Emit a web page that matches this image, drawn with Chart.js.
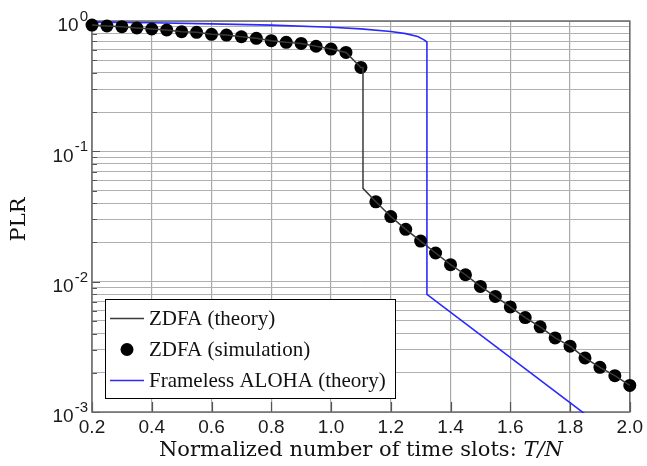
<!DOCTYPE html>
<html><head><meta charset="utf-8">
<script src="https://cdn.jsdelivr.net/npm/chart.js@4/dist/chart.umd.min.js"></script>
<style>html,body{margin:0;padding:0;background:#fff;overflow:hidden}#wrap{width:647px;height:466px;position:relative}</style>
</head><body><div id="wrap"><canvas id="c"></canvas></div>
<script>
// ---- data ----
const simX = [0.2,0.25,0.3,0.35,0.4,0.45,0.5,0.55,0.6,0.65,0.7,0.75,0.8,0.85,0.9,0.95,1.0,1.05,1.1,
              1.15,1.2,1.25,1.3,1.35,1.4,1.45,1.5,1.55,1.6,1.65,1.7,1.75,1.8,1.85,1.9,1.95,2.0];
const simY = [0.93,0.915,0.904,0.884,0.868,0.853,0.828,0.818,0.79,0.78,0.757,0.736,0.706,0.686,0.673,0.64,0.609,0.574,0.44,
              0.041,0.0316,0.0252,0.0205,0.0166,0.0135,0.0113,0.0092,0.0077,0.0064,0.0053,0.0045,0.0037,0.0032,0.0026,0.0022,0.0019,0.0016];
const theoryX = [0.2,0.25,0.3,0.35,0.4,0.45,0.5,0.55,0.6,0.65,0.7,0.75,0.8,0.85,0.9,0.95,1.0,1.05,1.1,1.107,1.107,
                 1.15,1.2,1.25,1.3,1.35,1.4,1.45,1.5,1.55,1.6,1.65,1.7,1.75,1.8,1.85,1.9,1.95,2.0];
const theoryY = [0.93,0.915,0.904,0.884,0.868,0.853,0.828,0.818,0.79,0.78,0.757,0.736,0.706,0.686,0.673,0.64,0.609,0.574,0.44,0.44,0.052,
                 0.041,0.0316,0.0252,0.0205,0.0166,0.0135,0.0113,0.0092,0.0077,0.0064,0.0053,0.0045,0.0037,0.0032,0.0026,0.0022,0.0019,0.0016];
const alohaX = [0.2,0.4,0.6,0.8,1.0,1.1,1.2,1.25,1.29,1.31,1.321,1.321,2.0];
const alohaY = [0.98,0.97,0.95,0.93,0.895,0.87,0.83,0.80,0.76,0.72,0.69,0.008,0.00053];
const seriesLabels = ['ZDFA (theory)','ZDFA (simulation)','Frameless ALOHA (theory)'];
const xTickValues = [0.2,0.4,0.6,0.8,1.0,1.2,1.4,1.6,1.8,2.0];
const yDecades = [1,0.1,0.01,0.001];
const yDecadeExps = ['0','-1','-2','-3'];
const yMinorMultipliers = [2,3,4,5,6,7,8,9];
const xTitle = 'Normalized number of time slots: ';
const xTitleMath = 'T/N';
const yTitle = 'PLR';

const toPts = (xs, ys) => xs.map((x, i) => ({x, y: ys[i]}));
const yGridValues = [];
yDecades.forEach(d => { yGridValues.push(d); if (d < 1) yMinorMultipliers.forEach(m => yGridValues.push(d * m)); });

const SANS = '"Liberation Sans", Arial, sans-serif';
const SERIF = '"DejaVu Serif", serif';
const LEGSERIF = '"Liberation Serif", "Times New Roman", serif';

const decor = {
  id: 'decor',
  beforeDatasetsDraw(chart) {
    const {ctx, chartArea: a} = chart;
    const xs = chart.scales.x, ys = chart.scales.y;
    ctx.save();
    ctx.strokeStyle = '#555';
    ctx.lineWidth = 1.2;
    ctx.beginPath();
    xTickValues.forEach(v => { const px = Math.round(xs.getPixelForValue(v)) + 0.5; ctx.moveTo(px, a.bottom); ctx.lineTo(px, a.bottom - 10); });
    yGridValues.forEach(v => { const py = Math.round(ys.getPixelForValue(v)) + 0.5; const len = yDecades.includes(v) ? 8 : 5; ctx.moveTo(a.left, py); ctx.lineTo(a.left + len, py); });
    ctx.stroke();
    ctx.strokeStyle = '#6a6a6a';
    ctx.lineWidth = 1.5;
    ctx.strokeRect(a.left, a.top, a.right - a.left, a.bottom - a.top);
    ctx.restore();
  },
  afterDraw(chart) {
    const {ctx, chartArea: a} = chart;
    const ys = chart.scales.y;
    ctx.save();
    ctx.fillStyle = '#1a1a1a';
    // y tick labels with superscript exponents
    yDecades.forEach((v, i) => {
      const py = ys.getPixelForValue(v);
      ctx.font = '15px ' + SANS;
      ctx.textAlign = 'right'; ctx.textBaseline = 'middle';
      const ew = ctx.measureText(yDecadeExps[i]).width;
      ctx.fillText(yDecadeExps[i], a.left - 4, py - 4);
      ctx.font = '19px ' + SANS;
      ctx.fillText('10', a.left - 5 - ew, py + 5);
    });
    // x title
    ctx.fillStyle = '#111';
    ctx.textBaseline = 'middle';
    ctx.font = '21px ' + SERIF;
    const w1 = ctx.measureText(xTitle).width;
    ctx.font = 'italic 21px ' + SERIF;
    const w2 = ctx.measureText(xTitleMath).width;
    const cx = (a.left + a.right) / 2;
    let sx = cx - (w1 + w2) / 2;
    ctx.textAlign = 'left';
    ctx.font = '21px ' + SERIF;
    ctx.fillText(xTitle, sx, 451);
    ctx.font = 'italic 21px ' + SERIF;
    ctx.fillText(xTitleMath, sx + w1, 451);
    // y title
    ctx.save();
    ctx.translate(20, (a.top + a.bottom) / 2 + 3);
    ctx.rotate(-Math.PI / 2);
    ctx.textAlign = 'center';
    ctx.font = '21px ' + SERIF;
    ctx.fillText(yTitle, 0, 0);
    ctx.restore();
    // legend
    const lx = 105.5, ly = 299.5, lw = 290, lh = 99;
    ctx.fillStyle = '#fff';
    ctx.fillRect(lx, ly, lw, lh);
    ctx.strokeStyle = '#000'; ctx.lineWidth = 1;
    ctx.strokeRect(lx, ly, lw, lh);
    const rows = [318.5, 349.5, 380.5];
    chart.data.datasets.forEach((ds, i) => {
      const ry = rows[i];
      if (ds.showLine) {
        ctx.strokeStyle = ds.borderColor; ctx.lineWidth = ds.borderWidth;
        ctx.beginPath(); ctx.moveTo(110, ry); ctx.lineTo(144, ry); ctx.stroke();
      } else {
        ctx.fillStyle = ds.pointBackgroundColor;
        ctx.beginPath(); ctx.arc(127, ry, ds.pointRadius, 0, Math.PI * 2); ctx.fill();
      }
      ctx.fillStyle = '#111';
      ctx.font = '21px ' + LEGSERIF;
      ctx.textAlign = 'left'; ctx.textBaseline = 'middle';
      ctx.fillText(ds.label, 149, ry + 1);
    });
    ctx.restore();
  }
};

new Chart(document.getElementById('c'), {
  type: 'scatter',
  data: {
    datasets: [
      { label: seriesLabels[0], data: toPts(theoryX, theoryY), showLine: true, borderColor: '#3a3a3a', borderWidth: 1.5, pointRadius: 0, clip: 2 },
      { label: seriesLabels[1], data: toPts(simX, simY), showLine: false, pointRadius: 6.5, pointBackgroundColor: '#000', pointBorderColor: '#000', pointBorderWidth: 0, clip: false },
      { label: seriesLabels[2], data: toPts(alohaX, alohaY), showLine: true, borderColor: '#2a2aff', borderWidth: 1.6, pointRadius: 0, clip: 1 }
    ]
  },
  options: {
    responsive: true, maintainAspectRatio: false, animation: false, devicePixelRatio: 1,
    layout: { padding: { left: 0, right: 15, top: 21, bottom: 0 } },
    plugins: { legend: { display: false }, tooltip: { enabled: false } },
    scales: {
      x: {
        type: 'linear', min: 0.2, max: 2.0,
        afterBuildTicks: s => { s.ticks = xTickValues.map(v => ({value: v})); },
        afterFit: s => { s.height = 54; },
        grid: { color: '#a9a9a9', lineWidth: 1.2, drawTicks: false },
        border: { display: false },
        ticks: { font: { family: SANS, size: 19 }, color: '#1a1a1a', padding: 4, maxRotation: 0, autoSkip: false, callback: v => Number(v).toFixed(1) }
      },
      y: {
        type: 'logarithmic', min: 0.001, max: 1,
        afterBuildTicks: s => { s.ticks = yGridValues.map(v => ({value: v})); },
        afterFit: s => { s.width = 92; },
        grid: { color: '#b0b0b0', lineWidth: 1, drawTicks: false },
        border: { display: false },
        ticks: { display: false }
      }
    }
  },
  plugins: [decor]
});
</script></body></html>
